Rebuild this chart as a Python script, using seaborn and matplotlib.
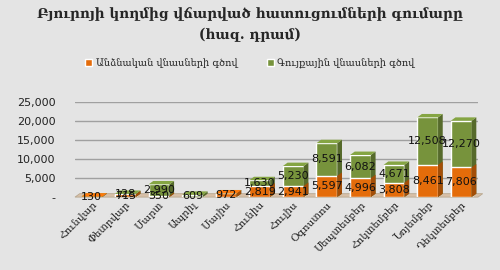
import matplotlib
matplotlib.use("Agg")
import matplotlib.pyplot as plt
import seaborn as sns
import numpy as np
import pandas as pd
from matplotlib.patches import Patch, Polygon

months = ["Հունվար", "Փետրվար", "Մարտ", "Ապրիլ", "Մայիս", "Հունիս",
          "Հուլիս", "Օգոստոս", "Սեպտեմբեր", "Հոկտեմբեր", "Նոյեմբեր", "Դեկտեմբեր"]
individual = [130, 715, 350, 0, 972, 2819, 2941, 5597, 4996, 3808, 8461, 7806]
group = [0, 128, 2990, 609, 0, 1630, 5230, 8591, 6082, 4671, 12508, 12270]
series_names = ["Անձնական վնասների գծով", "Գույքային վնասների գծով"]
title = "Բյուրոյի կողմից վճարված հատուցումների գումարը\n(հազ. դրամ)"
yticks = [0, 5000, 10000, 15000, 20000, 25000]
ytick_labels = ["-", "5,000", "10,000", "15,000", "20,000", "25,000"]

ORANGE = "#E46C0A"
GREEN = "#77933C"
BG = "#E4E4E4"
FLOOR = "#D8C0A8"

sns.set_theme(style="white")
serif = ["DejaVu Serif", "DejaVu Sans"]

df = pd.DataFrame({"month": months, "ind": individual, "grp": group})
df["total"] = df["ind"] + df["grp"]

fig = plt.figure(figsize=(5, 2.7), dpi=100, facecolor=BG)
ax = fig.add_axes([0.15, 0.27, 0.806, 0.352])
ax.set_facecolor(BG)

sns.barplot(data=df, x="month", y="total", color=GREEN, width=0.62,
            saturation=1, ax=ax, zorder=3)
n_green = len(ax.patches)
sns.barplot(data=df, x="month", y="ind", color=ORANGE, width=0.62,
            saturation=1, ax=ax, zorder=3)

ax.set_ylim(0, 25000)
ax.set_xlim(-0.5, len(months) - 0.5)
ax.set_yticks(yticks)
ax.set_yticklabels(ytick_labels, fontsize=8, color="#222222")
ax.tick_params(axis="y", length=0, pad=14)
ax.tick_params(axis="x", length=0, pad=2)
ax.set_xticks(range(len(months)))
ax.set_xticklabels(months, rotation=45, ha="right", rotation_mode="anchor",
                   fontsize=7.5, family=serif, color="#222222")
ax.set_xlabel("")
ax.set_ylabel("")
for s in ax.spines.values():
    s.set_visible(False)
ax.yaxis.grid(True, color="#A0A0A0", linewidth=1.0, zorder=0)

# pseudo-3D depth
dx = 0.14
dy = 900
x_lo, x_hi = ax.get_xlim()
floor = Polygon([(x_lo, 0), (x_lo + dx, dy), (x_hi + dx, dy), (x_hi, 0)],
                closed=True, facecolor=FLOOR, edgecolor="#B8A890", lw=0.6,
                zorder=2, clip_on=False)
ax.add_patch(floor)

bars = list(ax.patches[:n_green + len(months)])
green_bars = bars[:n_green]
orange_bars = bars[n_green:n_green + len(months)]
for i, p in enumerate(green_bars + orange_bars):
    x0, y0 = p.get_x(), p.get_y()
    w, h = p.get_width(), p.get_height()
    if h <= 0:
        continue
    is_orange = i >= n_green
    fc = np.array(matplotlib.colors.to_rgb(p.get_facecolor()))
    side = Polygon([(x0 + w, y0), (x0 + w + dx, y0 + dy), (x0 + w + dx, y0 + h + dy), (x0 + w, y0 + h)],
                   closed=True, facecolor=fc * 0.72, edgecolor="none", zorder=3)
    ax.add_patch(side)
    k = i - n_green if is_orange else i
    if (not is_orange) or group[k] == 0:
        top = Polygon([(x0, y0 + h), (x0 + dx, y0 + h + dy), (x0 + w + dx, y0 + h + dy), (x0 + w, y0 + h)],
                      closed=True, facecolor=np.clip(fc * 1.12, 0, 1), edgecolor="none", zorder=3)
        ax.add_patch(top)

# data labels
for i, (a, b) in enumerate(zip(individual, group)):
    if a > 0:
        ax.text(i, a / 2, f"{a:,}", ha="center", va="center", fontsize=8,
                color="#111111", zorder=5)
    if b > 0:
        ax.text(i, a + b / 2, f"{b:,}", ha="center", va="center", fontsize=8,
                color="#111111", zorder=5)

fig.suptitle(title, y=0.975, fontsize=9.8, fontweight="bold", family=serif,
             linespacing=1.6)

handles = [Patch(facecolor=ORANGE), Patch(facecolor=GREEN)]
fig.legend(handles, series_names, loc="center", bbox_to_anchor=(0.5, 0.765),
           ncol=2, frameon=False, prop={"family": serif, "size": 7},
           handlelength=0.7, handleheight=0.7, columnspacing=3, handletextpad=0.4)

fig.savefig("out.png", dpi=100, facecolor=BG)
